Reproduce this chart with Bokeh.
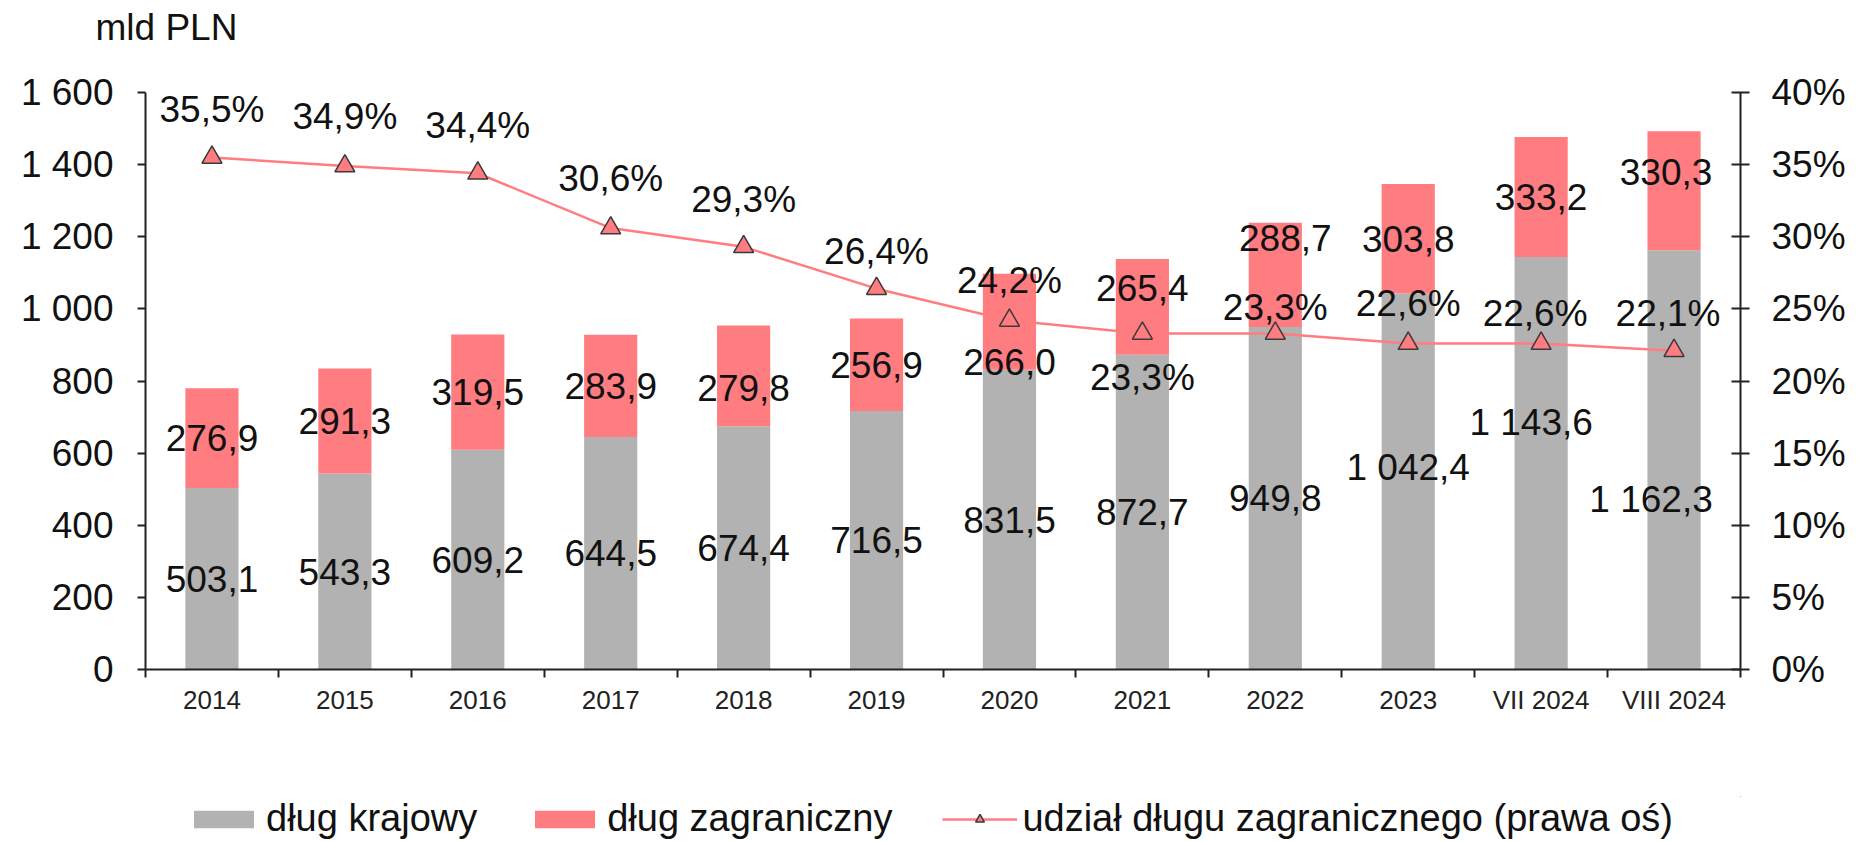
import numpy as np
from bokeh.plotting import figure
from bokeh.layouts import column
from bokeh.models import (ColumnDataSource, Range1d, LinearAxis, FixedTicker,
                          Legend, LegendItem)
from bokeh.core.properties import value
from bokeh.embed import file_html
from bokeh.resources import INLINE

# ---------------- data ----------------
categories = ["2014", "2015", "2016", "2017", "2018", "2019", "2020", "2021",
              "2022", "2023", "VII 2024", "VIII 2024"]
domestic = [503.1, 543.3, 609.2, 644.5, 674.4, 716.5, 831.5, 872.7, 949.8,
            1042.4, 1143.6, 1162.3]
foreign = [276.9, 291.3, 319.5, 283.9, 279.8, 256.9, 266.0, 265.4, 288.7,
           303.8, 333.2, 330.3]
share = [35.5, 34.9, 34.4, 30.6, 29.3, 26.4, 24.2, 23.3, 23.3, 22.6, 22.6, 22.1]
left_ticks = [0, 200, 400, 600, 800, 1000, 1200, 1400, 1600]
right_ticks = [0, 5, 10, 15, 20, 25, 30, 35, 40]

# label nudges in pixels (style only)
dom_dx = [0, 0, 0, 0, 0, 0, 0, 0, 0, 0, -10, -23]
dom_dy = [0, 0, 0, 0, 0, 0, 0, 0, 0, 14, 41, -40]
for_dx = [0, 0, 0, 0, 0, 0, 0, 0, 10, 0, 0, -8]
for_dy = [0, 0, 0, 0, -12, 0, -40, 19, 37, 0, 0, 19]
sh_dx = [0, 0, 0, 0, 0, 0, 0, 0, 0, 0, -6, -6]
sh_dy = [48, 50, 48, 50, 47, 37, 40, -44, 26, 40, 30, 37]

GREY = "#B2B2B2"
RED = "#FF7C80"
FONT = "Liberation Sans"
FS = "37px"
INK = "#111111"
AX = "#222222"
W = 1850
LB, RB = 145, 110


def fmt(v):
    return f"{v:,.1f}".replace(",", " ").replace(".", ",")


n = len(categories)
xc = np.arange(n) + 0.5
dom = np.array(domestic)
fo = np.array(foreign)

src = ColumnDataSource(dict(
    x=xc, dom=dom, top=dom + fo, sh=share,
    dom_lbl=[fmt(v) for v in domestic], dom_y=dom / 2,
    dom_dx=dom_dx, dom_dy=[-v for v in dom_dy],
    for_lbl=[fmt(v) for v in foreign], for_y=dom + fo / 2,
    for_dx=for_dx, for_dy=[-v for v in for_dy],
    sh_lbl=[fmt(v) + "%" for v in share],
    sh_dx=sh_dx, sh_dy=[-v for v in sh_dy],
))

# ---------------- top strip: unit caption ----------------
tp = figure(width=W, height=56, output_backend="svg", toolbar_location=None,
            x_range=Range1d(0, 1), y_range=Range1d(0, 1), title="mld PLN",
            min_border_left=LB, min_border_right=RB,
            min_border_top=0, min_border_bottom=0)
tp.axis.visible = False
tp.grid.visible = False
tp.outline_line_color = None
tp.title.align = "left"
tp.title.offset = -50
tp.title.standoff = 10
tp.title.vertical_align = "middle"
tp.title.text_font = FONT
tp.title.text_font_size = FS
tp.title.text_font_style = "normal"
tp.title.text_color = INK

# ---------------- main chart ----------------
p = figure(width=W, height=740, output_backend="svg", toolbar_location=None,
           x_range=Range1d(0, n), y_range=Range1d(0, 1600), title=None,
           min_border_left=LB, min_border_right=RB,
           min_border_top=36, min_border_bottom=127)
p.extra_y_ranges = {"pct": Range1d(0, 40)}
p.outline_line_color = None
p.grid.visible = False
p.background_fill_color = "white"
p.border_fill_color = "white"

r_dom = p.vbar(x="x", bottom=0, top="dom", width=0.4, source=src,
               fill_color=GREY, line_color=None)
r_for = p.vbar(x="x", bottom="dom", top="top", width=0.4, source=src,
               fill_color=RED, line_color=None)
r_line = p.line(x="x", y="sh", source=src, y_range_name="pct",
                line_color=RED, line_width=2.5)
r_mk = p.scatter(x="x", y="sh", source=src, y_range_name="pct",
                 marker="triangle", size=20, fill_color=RED,
                 line_color="#3a3a3a", line_width=1.5)

common = dict(text_font=value(FONT), text_font_size=FS, text_color=INK,
              text_align="center", text_baseline="middle", source=src)
p.text(x="x", y="dom_y", text="dom_lbl", x_offset="dom_dx", y_offset="dom_dy", **common)
p.text(x="x", y="for_y", text="for_lbl", x_offset="for_dx", y_offset="for_dy", **common)
p.text(x="x", y="sh", text="sh_lbl", x_offset="sh_dx", y_offset="sh_dy",
       y_range_name="pct", **common)

xa = p.xaxis[0]
xa.ticker = FixedTicker(ticks=list(xc), minor_ticks=list(range(n + 1)))
xa.major_label_overrides = {float(x): c for x, c in zip(xc, categories)}
xa.major_tick_out = 0
xa.major_tick_in = 0
xa.minor_tick_out = 8
xa.minor_tick_in = 0
xa.minor_tick_line_color = AX
xa.minor_tick_line_width = 2
xa.axis_line_color = AX
xa.axis_line_width = 2
xa.major_label_text_font = FONT
xa.major_label_text_font_size = "26px"
xa.major_label_text_font_style = "normal"
xa.major_label_text_color = AX
xa.major_label_standoff = 7

ya = p.yaxis[0]
ya.ticker = FixedTicker(ticks=left_ticks, minor_ticks=[])
ya.major_label_overrides = {t: f"{t:,}".replace(",", " ") for t in left_ticks}
ya.major_tick_out = 8
ya.major_tick_in = 0
ya.major_tick_line_color = AX
ya.major_tick_line_width = 2
ya.axis_line_color = AX
ya.axis_line_width = 2
ya.major_label_text_font = FONT
ya.major_label_text_font_size = FS
ya.major_label_text_color = INK
ya.major_label_standoff = 24

ra = LinearAxis(y_range_name="pct",
                ticker=FixedTicker(ticks=right_ticks, minor_ticks=[]))
ra.major_label_overrides = {t: f"{t}%" for t in right_ticks}
ra.major_tick_out = 9
ra.major_tick_in = 9
ra.major_tick_line_color = AX
ra.major_tick_line_width = 2
ra.axis_line_color = AX
ra.axis_line_width = 2
ra.major_label_text_font = FONT
ra.major_label_text_font_size = FS
ra.major_label_text_color = INK
ra.major_label_standoff = 22
p.add_layout(ra, "right")

# ---------------- legend strip ----------------
lg = figure(width=W, height=44, output_backend="svg", toolbar_location=None,
            x_range=Range1d(-20, -19), y_range=Range1d(-5000, -4999),
            min_border_left=LB, min_border_right=RB,
            min_border_top=0, min_border_bottom=0)
lg.axis.visible = False
lg.grid.visible = False
lg.outline_line_color = None
# same series renderers (their data lie outside this strip's ranges, so only
# the legend swatches are visible)
l_dom = lg.vbar(x="x", bottom=0, top="dom", width=0.4, source=src,
                fill_color=GREY, line_color=None)
l_for = lg.vbar(x="x", bottom="dom", top="top", width=0.4, source=src,
                fill_color=RED, line_color=None)
l_line = lg.line(x="x", y="sh", source=src, line_color=RED, line_width=2.5)
l_mk = lg.scatter(x="x", y="sh", source=src, marker="triangle", size=20,
                  fill_color=RED, line_color="#3a3a3a", line_width=1.5)
legend = Legend(items=[
    LegendItem(label="dług krajowy", renderers=[l_dom]),
    LegendItem(label="dług zagraniczny", renderers=[l_for]),
    LegendItem(label="udział długu zagranicznego (prawa oś)", renderers=[l_line, l_mk]),
], location=(186 - LB, 0), orientation="horizontal",
    glyph_width=75, glyph_height=22, label_standoff=5, spacing=50,
    padding=0, margin=0, border_line_color=None, background_fill_alpha=0,
    label_text_font=FONT, label_text_font_size="38px", label_text_color=INK)
lg.add_layout(legend)

layout = column(tp, p, lg, spacing=0)
open("out.html", "w").write(file_html(layout, INLINE))
